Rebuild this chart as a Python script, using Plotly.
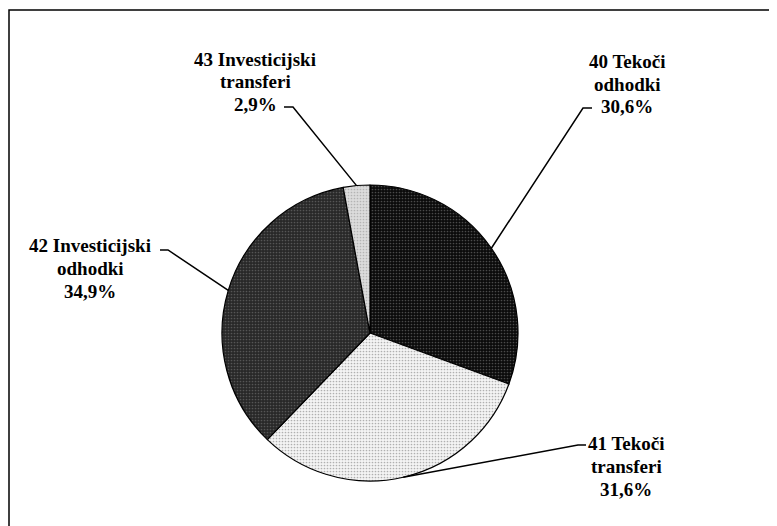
import math
import plotly.graph_objects as go

# ==========================================
# Data
# ==========================================

labels = ["40 Tekoči odhodki", "41 Tekoči transferi",
          "42 Investicijski odhodki", "43 Investicijski transferi"]
shares = [30.6, 31.6, 34.9, 2.9]
label_lines = [
    ["40 Tekoči", "odhodki", "30,6%"],
    ["41 Tekoči", "transferi", "31,6%"],
    ["42 Investicijski", "odhodki", "34,9%"],
    ["43 Investicijski", "transferi", "2,9%"],
]
fill_colors = ["#0b0b0b", "#f4f4f4", "#282828", "#dcdcdc"]
dot_colors = ["#4a4a4a", "#b0b0b0", "#555555", "#b4b4b4"]

# ==========================================
# Layout helpers (page pixels; the page body adds an 8px offset)
# ==========================================

OFF = 8
W, H = 777 - OFF, 526 - OFF
CX, CY, R = 370, 333, 148
LINE_H = 23

# label centre (px), elbow point (px) of each leader
label_pos = [(627, 84), (626, 466), (90, 268), (255, 82)]
elbow_pos = [((583, 108), (592, 108)),
             ((578, 445), (586, 445)),
             ((168, 250), (160, 250)),
             ((293, 107), (284, 107))]


def px(x, y):
    return (x - OFF) / W, 1 - (y - OFF) / H


fig = go.Figure(go.Pie(
    labels=labels,
    values=shares,
    sort=False,
    direction="clockwise",
    rotation=0,
    textinfo="none",
    hoverinfo="label+percent",
    showlegend=False,
    marker=dict(
        colors=fill_colors,
        line=dict(color="black", width=1.2),
        pattern=dict(shape=".", fgcolor=dot_colors, bgcolor=fill_colors,
                     size=3, solidity=0.25, fillmode="replace"),
    ),
    domain=dict(x=[px(CX - R, 0)[0], px(CX + R, 0)[0]],
                y=[px(0, CY + R)[1], px(0, CY - R)[1]]),
))

# leader lines from the middle of each slice edge
shapes = []
annotations = []
start = 0.0
total = sum(shares)
for i, v in enumerate(shares):
    mid = (start + v / 2) / total * 2 * math.pi
    start += v
    ex = CX + R * math.sin(mid)
    ey = CY - R * math.cos(mid)
    (bx, by), (tx, ty) = elbow_pos[i]
    p0, p1, p2 = px(ex, ey), px(bx, by), px(tx, ty)
    shapes.append(dict(
        type="path", xref="paper", yref="paper",
        path=f"M {p0[0]},{p0[1]} L {p1[0]},{p1[1]} L {p2[0]},{p2[1]}",
        line=dict(color="black", width=1.5),
    ))
    cx, cy = label_pos[i]
    for k, line in enumerate(label_lines[i]):
        lx, ly = px(cx, cy + (k - 1) * LINE_H)
        annotations.append(dict(
            x=lx, y=ly, xref="paper", yref="paper", text=f"<b>{line}</b>",
            showarrow=False, xanchor="center", yanchor="middle",
            font=dict(family="Times New Roman", size=19, color="black"),
        ))

# chart frame (right and bottom edges fall outside the canvas)
fx0, fy0 = px(9, 10)
shapes.append(dict(
    type="rect", xref="paper", yref="paper",
    x0=fx0, y0=-0.05, x1=1.05, y1=fy0,
    line=dict(color="black", width=1.5),
))

fig.update_layout(
    width=W, height=H,
    margin=dict(l=0, r=0, t=0, b=0),
    paper_bgcolor="white",
    plot_bgcolor="white",
    shapes=shapes,
    annotations=annotations,
)

fig.write_html("out.html")
